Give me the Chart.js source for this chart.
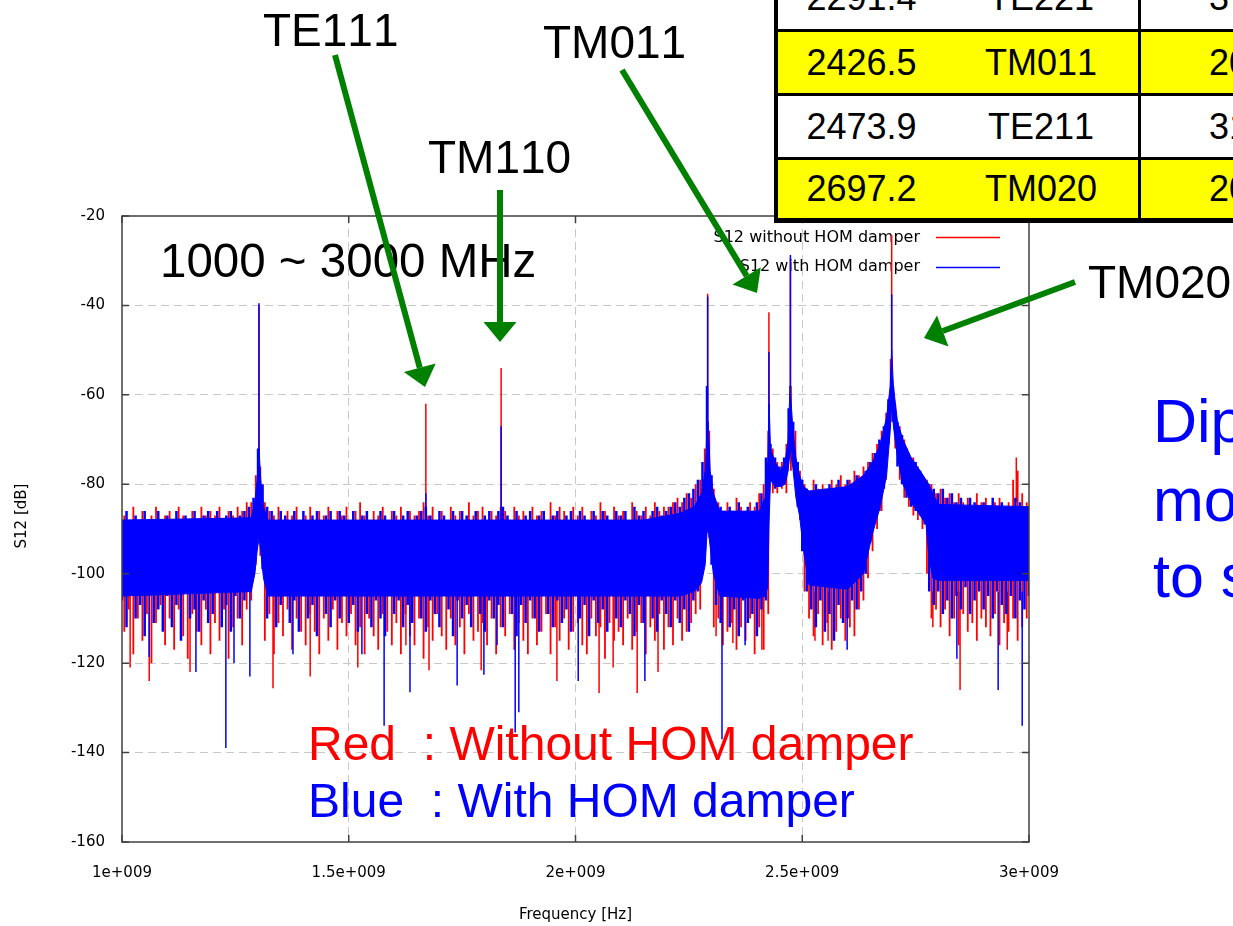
<!DOCTYPE html>
<html>
<head>
<meta charset="utf-8">
<script src="https://cdn.jsdelivr.net/npm/chart.js@4.4.0/dist/chart.umd.min.js"></script>
<style>
  html, body { margin: 0; padding: 0; background: #fff; }
  body { width: 1233px; height: 926px; position: relative; overflow: hidden; }
  canvas { position: absolute; left: 0; top: 0; }
  .lbl { position: absolute; font-family: "Liberation Sans", Arial, sans-serif; white-space: pre; line-height: 1; color: #000; font-kerning: none; }
  #tbl { position: absolute; left: 774px; top: -40px; width: 566px; height: 263px; background: #000; }
  .cell { position: absolute; font: 36px "Liberation Sans", Arial, sans-serif; color: #000; white-space: pre; font-kerning: none; }
  #arrows { pointer-events: none; }
</style>
</head>
<body>
<canvas id="c" width="1233" height="926"></canvas>
<div id="tbl"></div>
<div class="lbl" style="left:263px;top:7px;font-size:46px">TE111</div>
<div class="lbl" style="left:543px;top:19px;font-size:46px">TM011</div>
<div class="lbl" style="left:428px;top:134px;font-size:46px">TM110</div>
<div class="lbl" style="left:1088px;top:259px;font-size:46px">TM020</div>
<div class="lbl" style="left:160px;top:237px;font-size:47.5px">1000 ~ 3000 MHz</div>
<div class="lbl" style="left:308px;top:720px;font-size:48px;color:#ff0000">Red  : Without HOM damper</div>
<div class="lbl" style="left:308px;top:777px;font-size:48px;color:#0000ff">Blue  : With HOM damper</div>
<div class="lbl" style="left:1153px;top:391px;font-size:61px;color:#0000ff">Dip</div>
<div class="lbl" style="left:1153px;top:470px;font-size:61px;color:#0000ff">mo</div>
<div class="lbl" style="left:1153px;top:546px;font-size:61px;color:#0000ff">to s</div>
<canvas id="arrows" width="1233" height="926"></canvas>
<script>
// axis ticks
const xTickValues = [1000, 1500, 2000, 2500, 3000];
const xTickLabels = ['1e+009', '1.5e+009', '2e+009', '2.5e+009', '3e+009'];

// sweep: blue sampled every 10 MHz from 1000, red every 10 MHz from 1005
const blueStart = 1000, redStart = 1005, sweepStep = 10;

// S12 with HOM damper (blue): top / bottom of each sample's noise excursion, dB
const blueHi = [
  -88,-86,-89,-87,-88,-86,-89,-88,-86,-88,
  -87,-89,-86,-88,-87,-89,-86,-88,-87,-86,
  -88,-86,-89,-87,-86,-88,-87,-86,-85,-83,
  -72,-80,-85,-86,-88,-86,-87,-89,-86,-88,
  -86,-88,-87,-86,-89,-87,-86,-88,-86,-87,
  -89,-86,-88,-87,-86,-88,-89,-86,-87,-88,
  -86,-88,-87,-86,-89,-87,-86,-85,-87,-88,
  -86,-87,-89,-86,-88,-86,-87,-88,-86,-89,
  -87,-86,-88,-86,-85,-87,-88,-86,-89,-87,
  -86,-88,-87,-86,-89,-87,-86,-88,-87,-86,
  -88,-86,-87,-89,-86,-88,-86,-87,-88,-86,
  -87,-86,-88,-85,-87,-86,-88,-86,-85,-87,
  -86,-85,-84,-85,-83,-82,-81,-79,-75,-58,
  -78,-84,-85,-87,-85,-86,-84,-87,-85,-86,
  -84,-82,-74,-71,-74,-76,-74,-63,-66,-75,
  -79,-81,-82,-80,-82,-81,-80,-82,-79,-81,
  -79,-80,-78,-79,-77,-75,-73,-70,-67,-61,
  -58,-66,-69,-72,-74,-75,-77,-79,-80,-81,
  -82,-81,-83,-82,-84,-83,-85,-83,-84,-86,
  -84,-85,-83,-86,-84,-85,-86,-83,-84,-86,
  -85
];
const blueLo = [
  -106,-112,-104,-110,-107,-114,-105,-111,-108,-113,
  -105,-112,-107,-115,-104,-110,-108,-113,-106,-111,
  -109,-104,-112,-107,-113,-105,-110,-106,-104,-100,
  -92,-99,-110,-105,-112,-107,-104,-111,-106,-113,
  -105,-110,-107,-114,-104,-109,-112,-106,-110,-105,
  -111,-107,-113,-105,-109,-112,-106,-110,-114,-105,
  -109,-106,-112,-107,-111,-105,-110,-113,-106,-109,
  -112,-105,-108,-114,-106,-110,-107,-112,-105,-109,
  -113,-106,-110,-107,-112,-105,-109,-114,-107,-111,
  -106,-110,-113,-105,-109,-112,-106,-111,-108,-113,
  -105,-110,-107,-114,-106,-111,-108,-113,-105,-110,
  -112,-106,-109,-114,-107,-111,-105,-110,-113,-106,
  -109,-112,-106,-111,-108,-113,-106,-104,-100,-90,
  -98,-107,-111,-105,-112,-108,-114,-106,-111,-109,
  -114,-108,-106,-79,-81,-80,-80,-74,-76,-85,
  -95,-104,-108,-112,-106,-113,-109,-115,-107,-111,
  -110,-106,-108,-104,-100,-93,-88,-86,-81,-71,
  -66,-76,-80,-83,-85,-86,-87,-89,-104,-107,
  -104,-109,-106,-110,-105,-108,-103,-109,-106,-104,
  -108,-105,-110,-104,-107,-109,-105,-110,-106,-108,
  -105
];

// S12 without HOM damper (red)
const redHi = [
  -87,-89,-85,-88,-86,-89,-87,-85,-88,-87,
  -86,-88,-85,-87,-89,-86,-88,-85,-87,-86,
  -87,-85,-88,-86,-87,-85,-86,-84,-84,-78,
  -76,-84,-86,-87,-85,-88,-86,-87,-85,-88,
  -87,-85,-88,-86,-87,-85,-88,-86,-87,-85,
  -88,-86,-84,-87,-88,-86,-87,-85,-88,-86,
  -87,-85,-88,-86,-87,-86,-84,-87,-85,-88,
  -86,-88,-85,-87,-86,-88,-84,-87,-86,-85,
  -88,-86,-87,-85,-86,-88,-85,-87,-86,-88,
  -85,-87,-86,-88,-84,-87,-85,-86,-88,-85,
  -87,-85,-88,-86,-87,-84,-86,-88,-85,-87,
  -86,-88,-84,-86,-87,-85,-87,-84,-86,-85,
  -85,-84,-83,-84,-82,-83,-80,-79,-72,-68,
  -81,-84,-86,-84,-86,-83,-85,-86,-84,-85,
  -82,-80,-68,-72,-75,-75,-71,-58,-68,-77,
  -80,-82,-79,-81,-80,-82,-79,-80,-78,-80,
  -79,-77,-78,-76,-75,-73,-71,-68,-64,-52,
  -62,-67,-70,-73,-74,-76,-78,-79,-80,-82,
  -81,-83,-82,-84,-82,-84,-83,-85,-82,-84,
  -83,-85,-84,-83,-85,-84,-79,-77,-82,-84
];
const redLo = [
  -113,-108,-118,-110,-115,-109,-120,-111,-107,-116,
  -110,-117,-108,-114,-119,-109,-113,-116,-108,-118,
  -111,-115,-108,-119,-112,-110,-116,-108,-106,-98,
  -96,-115,-109,-118,-111,-114,-108,-117,-110,-113,
  -116,-109,-113,-118,-110,-115,-108,-117,-111,-114,
  -109,-116,-112,-118,-110,-114,-117,-109,-113,-116,
  -111,-118,-109,-114,-116,-110,-119,-112,-115,-109,
  -114,-117,-110,-116,-112,-118,-109,-115,-113,-111,
  -116,-110,-118,-112,-114,-109,-117,-111,-115,-118,
  -110,-116,-113,-109,-118,-112,-115,-110,-117,-113,
  -111,-116,-118,-110,-114,-112,-119,-111,-115,-113,
  -116,-110,-117,-113,-111,-118,-112,-115,-109,-117,
  -112,-116,-110,-115,-113,-111,-109,-108,-96,-92,
  -112,-110,-116,-113,-111,-117,-112,-115,-110,-118,
  -112,-117,-109,-82,-82,-81,-82,-77,-78,-88,
  -104,-110,-114,-109,-116,-111,-117,-113,-110,-115,
  -112,-114,-108,-106,-101,-95,-90,-86,-79,-66,
  -72,-79,-83,-85,-87,-88,-90,-100,-110,-108,
  -112,-108,-114,-110,-116,-109,-113,-111,-115,-110,
  -112,-114,-109,-116,-111,-113,-110,-115,-112,-110
];

// dense part of the blue trace (where the noise is solid), MHz / dB
const coreFreq = [1000, 1285, 1293, 1298, 1302, 1306, 1312, 1322,
  2150, 2230, 2262, 2278, 2286, 2290, 2292.5, 2297, 2304, 2318,
  2405, 2418, 2424, 2427, 2430, 2440, 2452, 2462, 2469, 2473, 2475, 2479, 2486, 2494, 2503, 2515,
  2600, 2635, 2655, 2672, 2686, 2694, 2697.2, 2701, 2710, 2722, 2740, 2760, 2773, 2779, 2788, 2800, 3000];
const coreHi = [-88, -87.5, -84, -79, -72, -79, -85, -88,
  -88, -86.5, -85, -82, -77, -68, -66, -77, -82, -86,
  -86, -83, -75, -62, -72, -75, -77, -75, -70, -58, -58, -67, -74, -78, -80.5, -81.5,
  -80.5, -78, -75, -71, -65, -58, -50, -58, -66, -70, -74, -77, -79, -80, -82, -84.5, -85];
const coreLo = [-105, -104, -100, -95, -92, -95, -101, -105,
  -105, -105, -104, -102, -98, -91, -90, -94, -100, -105,
  -105.5, -105, -103, -88, -79, -80.5, -80.5, -80, -77, -72, -72, -76, -83, -87, -95, -102.5,
  -103.5, -100, -91, -85, -78, -68, -62, -67, -74, -80, -84, -87, -89, -96, -101, -101.5, -101.5];

// resonance peaks (MHz, dB at tip, dB where the peak leaves the dense trace)
const bluePeakFreq = [1302, 1670, 1836, 2291.4, 2426.5, 2473.9, 2697.2];
const bluePeakDb   = [-39.5, -82, -67, -38, -50.4, -28.7, -37.5];
const bluePeakBase = [-80, -88, -88, -70, -70, -62, -55];
const redPeakFreq  = [1302, 1670, 1836, 2291.4, 2426.5, 2473.9, 2697.2, 2972];
const redPeakDb    = [-40, -62, -54, -37.4, -41.5, -29.5, -24.3, -74];
const redPeakBase  = [-80, -88, -88, -70, -70, -62, -55, -84];

// deep single-sample dips below the band
const blueDipFreq = [1060, 1163, 1229, 1247, 1282, 1377, 1529, 1578, 1635, 1739, 1798, 1827, 1867, 1875, 2006, 2153, 2323, 2374, 2599, 2841, 2932, 2985];
const blueDipDb   = [-118.6, -122, -139, -120, -123, -118, -118, -134, -126.5, -125, -122.6, -116, -135.5, -131, -124, -124, -137, -116, -117, -119, -126, -134];
const redDipFreq  = [1018, 1060, 1150, 1333, 1415, 1520, 1626, 1677, 1792, 1959, 2052, 2083, 2136, 2182, 2310, 2347, 2411, 2528, 2557, 2788, 2848, 2952];
const redDipDb    = [-121, -124, -122, -125.6, -123, -121, -116, -121.6, -121.6, -124, -126.7, -121, -126.7, -122, -114, -115.5, -117, -115, -115, -112, -126, -117];

const tableRows = [
  ['2291.4', 'TE221', '3'],
  ['2426.5', 'TM011', '20'],
  ['2473.9', 'TE211', '31'],
  ['2697.2', 'TM020', '20']
];

function xy(freqs, vals) {
  return vals.map((v, i) => ({ x: freqs[i], y: v }));
}
// one vertical stroke per sweep sample, from its low to its high value
function hairs(start, lo, hi) {
  const pts = [];
  lo.forEach((v, i) => {
    const f = start + i * sweepStep;
    pts.push({ x: f, y: v }, { x: f, y: hi[i] }, { x: f, y: null });
  });
  return pts;
}
function spikes(freqs, tips, base) {
  const pts = [];
  freqs.forEach((f, i) => {
    const b = Array.isArray(base) ? base[i] : base;
    pts.push({ x: f, y: b }, { x: f, y: tips[i] }, { x: f, y: null });
  });
  return pts;
}

// table in the top right corner
const tbl = document.getElementById('tbl');
const colX = [4, 170, 367], colW = [167, 194, 200];
const rowY = [7, 72, 136, 200], rowH = [62, 61, 61, 58];
tableRows.forEach((row, r) => {
  row.forEach((txt, c) => {
    const d = document.createElement('div');
    d.className = 'cell';
    d.textContent = txt;
    d.style.left = colX[c] + 'px';
    d.style.top = rowY[r] + 'px';
    d.style.width = (c === 2 ? colW[c] - 68 : colW[c]) + 'px';
    d.style.height = rowH[r] + 'px';
    d.style.lineHeight = rowH[r] + 'px';
    d.style.background = r % 2 ? '#ffff00' : '#ffffff';
    d.style.textAlign = c === 2 ? 'left' : 'center';
    if (c === 2) d.style.paddingLeft = '68px';
    tbl.appendChild(d);
  });
});

const gnuplotDeco = {
  id: 'gnuplotDeco',
  beforeDatasetsDraw(chart) {
    const g = chart.ctx;
    g.save();
    g.font = '16px "DejaVu Sans"';
    g.fillStyle = '#000';
    g.textAlign = 'right';
    g.textBaseline = 'middle';
    g.fillText('S12 without HOM damper', 920, 238);
    g.fillText('S12 with HOM damper', 920, 267);
    g.setLineDash([]);
    g.lineWidth = 1.5;
    g.strokeStyle = '#ff0000';
    g.beginPath(); g.moveTo(936, 237.5); g.lineTo(1000, 237.5); g.stroke();
    g.strokeStyle = '#0000ff';
    g.beginPath(); g.moveTo(936, 267.5); g.lineTo(1000, 267.5); g.stroke();
    // y axis title (gnuplot puts it a little above the plot centre)
    g.translate(22, 516);
    g.rotate(-Math.PI / 2);
    g.font = '15px "DejaVu Sans"';
    g.textAlign = 'center';
    g.fillText('S12 [dB]', 0, 0);
    g.restore();
  },
  afterDatasetsDraw(chart) {
    const g = chart.ctx, a = chart.chartArea;
    const xs = chart.scales.x, ys = chart.scales.y;
    g.save();
    g.setLineDash([]);
    g.strokeStyle = '#404040';
    g.lineWidth = 1.5;
    g.strokeRect(a.left, a.top, a.right - a.left, a.bottom - a.top);
    g.beginPath();
    xTickValues.forEach(v => {
      const px = xs.getPixelForValue(v);
      g.moveTo(px, a.bottom); g.lineTo(px, a.bottom - 7);
      g.moveTo(px, a.top); g.lineTo(px, a.top + 7);
    });
    ys.ticks.forEach(t => {
      const py = ys.getPixelForValue(t.value);
      g.moveTo(a.left, py); g.lineTo(a.left + 7, py);
      g.moveTo(a.right, py); g.lineTo(a.right - 7, py);
    });
    g.stroke();
    g.restore();
  }
};

const gridColor = (edge1, edge2) => c =>
  (c.tick && (c.tick.value === edge1 || c.tick.value === edge2)) ? 'rgba(0,0,0,0)' : '#c8c8c8';

const thin = { pointRadius: 0, spanGaps: false, fill: false };

new Chart(document.getElementById('c').getContext('2d'), {
  type: 'line',
  data: {
    datasets: [
      { label: 'blue core lo', data: xy(coreFreq, coreLo), borderColor: '#0000ff', borderWidth: 1, pointRadius: 0, fill: false, order: 1 },
      { label: 'S12 with HOM damper', data: xy(coreFreq, coreHi), borderColor: '#0000ff', backgroundColor: '#0000ff', borderWidth: 1, pointRadius: 0, fill: '-1', order: 1 },
      { label: 'blue noise', data: hairs(blueStart, blueLo, blueHi), borderColor: '#0000ff', borderWidth: 2.5, ...thin, order: 1 },
      { label: 'blue spikes', data: spikes(bluePeakFreq, bluePeakDb, bluePeakBase).concat(spikes(blueDipFreq, blueDipDb, -104)), borderColor: '#0000ff', borderWidth: 1.5, ...thin, order: 1 },
      { label: 'S12 without HOM damper', data: hairs(redStart, redLo, redHi), borderColor: '#ff0000', borderWidth: 1.8, ...thin, order: 2 },
      { label: 'red spikes', data: spikes(redPeakFreq, redPeakDb, redPeakBase).concat(spikes(redDipFreq, redDipDb, -104)), borderColor: '#ff0000', borderWidth: 1.5, ...thin, order: 2 }
    ]
  },
  options: {
    animation: false,
    responsive: false,
    devicePixelRatio: 1,
    layout: { padding: { top: 216, right: 204, bottom: 0, left: 0 } },
    plugins: { legend: { display: false }, tooltip: { enabled: false } },
    scales: {
      x: {
        type: 'linear', min: 1000, max: 3000,
        afterFit: s => { s.height = 84; },
        ticks: {
          stepSize: 500, autoSkip: false, maxRotation: 0, padding: 22, color: '#000',
          font: { family: 'DejaVu Sans', size: 15 },
          callback: v => xTickLabels[xTickValues.indexOf(v)]
        },
        grid: { color: gridColor(1000, 3000), drawTicks: false, lineWidth: 1 },
        border: { display: false, dash: [8, 5] },
        title: { display: true, text: 'Frequency [Hz]', color: '#000', font: { family: 'DejaVu Sans', size: 15 }, padding: { top: 0, bottom: 2 } }
      },
      y: {
        min: -160, max: -20,
        afterFit: s => { s.width = 122; },
        ticks: { stepSize: 20, padding: 17, color: '#000', font: { family: 'DejaVu Sans', size: 15 } },
        grid: { color: gridColor(-160, -20), drawTicks: false, lineWidth: 1 },
        border: { display: false, dash: [8, 5] }
      }
    }
  },
  plugins: [gnuplotDeco]
});

// green annotation arrows, drawn above the text
const ag = document.getElementById('arrows').getContext('2d');
function arrow(x1, y1, x2, y2) {
  const ang = Math.atan2(y2 - y1, x2 - x1);
  const L = 20, W = 16.5;
  const bx = x2 - L * Math.cos(ang), by = y2 - L * Math.sin(ang);
  ag.beginPath(); ag.moveTo(x1, y1); ag.lineTo(bx, by); ag.stroke();
  ag.beginPath();
  ag.moveTo(x2, y2);
  ag.lineTo(bx + W * Math.sin(ang), by - W * Math.cos(ang));
  ag.lineTo(bx - W * Math.sin(ang), by + W * Math.cos(ang));
  ag.closePath(); ag.fill();
}
ag.strokeStyle = '#008000';
ag.fillStyle = '#008000';
ag.lineWidth = 6;
arrow(335, 55, 425, 387);
arrow(500, 190, 500, 342);
arrow(622, 70, 757, 293);
arrow(1075, 282, 924, 338);
</script>
</body>
</html>
